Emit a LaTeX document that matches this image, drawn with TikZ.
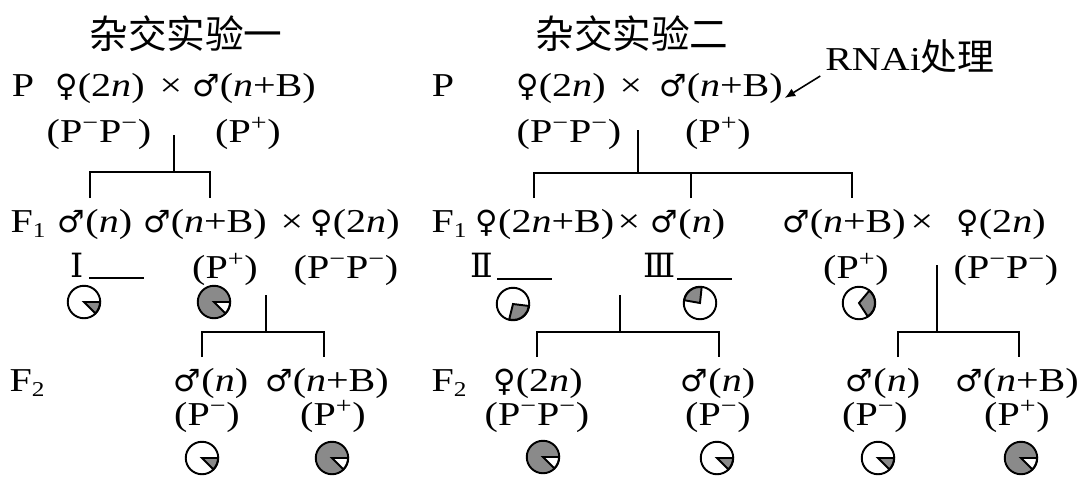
\documentclass[tikz,border=0pt]{standalone}
\usepackage{fontspec}
\setmainfont{Liberation Serif}[FakeStretch=1.2]
\newfontfamily\cjk{Noto Sans CJK SC}
\newfontfamily\symf{DejaVu Sans}[Scale=0.92]
\newfontfamily\romf{DejaVu Serif}
\usepackage{tikz}
\usetikzlibrary{arrows.meta}

\definecolor{piegray}{gray}{0.54}

\newcommand{\fem}{{\symf ♀}}
\newcommand{\mal}{{\symf ♂}}
\newcommand{\vn}{\textit{n}}
\newcommand{\Pminus}{P\textsuperscript{−}}
\newcommand{\Pplus}{P\textsuperscript{+}}
\newcommand{\gen}[1]{F\raisebox{-0.35ex}{\fontsize{12}{12}\selectfont #1}}
% wedge of a pie: node, from angle, to angle, colour
\newcommand{\piewedge}[4]{\filldraw[fill=#4] (#1.center) -- ++(#2:0.32cm) arc[start angle=#2, end angle=#3, radius=0.32cm] -- cycle;}

\begin{document}
\begin{tikzpicture}[
    x=0.02cm, y=-0.02cm,
    line width=1.1pt,
    txt/.style   = {anchor=base, inner sep=0pt, font=\fontsize{19}{23}\selectfont},
    title/.style = {anchor=base, inner sep=0pt, font=\fontsize{22}{26}\selectfont\cjk},
    pie/.style   = {circle, draw, fill=white, minimum size=0.65cm, inner sep=0pt},
    darkpie/.style = {pie, fill=piegray},
    arr/.style   = {-{Latex[length=6pt,width=5pt]}, line width=0.9pt}
]
\useasboundingbox (0,0) rectangle (1080,485);

% ---- Experiment one ----
\node[title] (t1)  at (186,48)  {杂交实验一};
\node[txt]   (p1)  at (23,96)   {P};
\node[txt]   (f1)  at (100,96)  {\fem(2\vn)};
\node[txt]   (x1)  at (171,96)  {×};
\node[txt]   (m1)  at (254,96)  {\mal(\vn+B)};
\node[txt]   (g1)  at (99,142)  {(\Pminus\Pminus)};
\node[txt]   (g2)  at (248,142) {(\Pplus)};

\node[txt]   (F1a) at (28,232)  {\gen{1}};
\node[txt]   (m11) at (95,232)  {\mal(\vn)};
\node[txt]   (m12) at (205,232) {\mal(\vn+B)};
\node[txt]   (x12) at (292,232) {×};
\node[txt]   (f12) at (355,232) {\fem(2\vn)};
\node[txt]   (r1)  at (77,277)  {\romf Ⅰ};
\node[txt]   (g12) at (225,278) {(\Pplus)};
\node[txt]   (g13) at (346,278) {(\Pminus\Pminus)};

\node[txt]   (F2a) at (27,391)  {\gen{2}};
\node[txt]   (m21) at (211,391) {\mal(\vn)};
\node[txt]   (m22) at (327,391) {\mal(\vn+B)};
\node[txt]   (g21) at (207,425) {(\Pminus)};
\node[txt]   (g22) at (333,425) {(\Pplus)};

% ---- Experiment two ----
\node[title] (t2)   at (632,48)  {杂交实验二};
\node[txt]   (rnai) at (910,70)  {RNAi{\cjk\fontsize{21}{25}\selectfont 处理}};
\node[txt]   (p2)   at (443,96)  {P};
\node[txt]   (f2)   at (561,96)  {\fem(2\vn)};
\node[txt]   (x2)   at (631,96)  {×};
\node[txt]   (m2)   at (721,96)  {\mal(\vn+B)};
\node[txt]   (g3)   at (569,142) {(\Pminus\Pminus)};
\node[txt]   (g4)   at (718,142) {(\Pplus)};

\node[txt]   (F1b)  at (449,232) {\gen{1}};
\node[txt]   (f3)   at (545,232) {\fem(2\vn+B)};
\node[txt]   (x3)   at (629,232) {×};
\node[txt]   (m3)   at (688,232) {\mal(\vn)};
\node[txt]   (m4)   at (844,232) {\mal(\vn+B)};
\node[txt]   (x4)   at (922,232) {×};
\node[txt]   (f4)   at (1001,232) {\fem(2\vn)};
\node[txt]   (r2)   at (482,277) {\romf Ⅱ};
\node[txt]   (r3)   at (660,277) {\romf Ⅲ};
\node[txt]   (g5)   at (856,278) {(\Pplus)};
\node[txt]   (g6)   at (1006,278) {(\Pminus\Pminus)};

\node[txt]   (F2b)  at (449,391) {\gen{2}};
\node[txt]   (f5)   at (538,391) {\fem(2\vn)};
\node[txt]   (m5)   at (718,391) {\mal(\vn)};
\node[txt]   (m6)   at (883,391) {\mal(\vn)};
\node[txt]   (m7)   at (1017,391) {\mal(\vn+B)};
\node[txt]   (g7)   at (537,425) {(\Pminus\Pminus)};
\node[txt]   (g8)   at (718,425) {(\Pminus)};
\node[txt]   (g9)   at (875,425) {(\Pminus)};
\node[txt]   (g10)  at (1017,425) {(\Pplus)};

% ---- Pies ----
\node[pie]     (pa) at (84,302)  {};  \piewedge{pa}{-45}{0}{piegray}
\node[darkpie] (pb) at (214,302) {};  \piewedge{pb}{-45}{0}{white}
\node[pie]     (pc) at (202,458) {};  \piewedge{pc}{-45}{0}{piegray}
\node[darkpie] (pd) at (332,458) {};  \piewedge{pd}{-45}{0}{white}
\node[pie]     (pe) at (513,304) {};  \piewedge{pe}{-104}{-7}{piegray}
\node[pie]     (pf) at (700,303) {};  \piewedge{pf}{84}{170}{piegray}
\node[pie]     (pg) at (859,303) {};  \piewedge{pg}{-57}{50}{piegray}
\node[darkpie] (ph) at (543,457) {};  \piewedge{ph}{-45}{0}{white}
\node[pie]     (pi) at (717,458) {};  \piewedge{pi}{-45}{0}{piegray}
\node[pie]     (pj) at (878,458) {};  \piewedge{pj}{-45}{0}{piegray}
\node[darkpie] (pk) at (1021,458) {}; \piewedge{pk}{-45}{0}{white}

% ---- Blanks ----
\draw (89,278)  -- (144,278);
\draw (497,279) -- (552,279);
\draw (677,279) -- (732,279);

% ---- Tree lines ----
\coordinate (a0) at (174,135); \coordinate (a1) at (174,172);
\coordinate (aL) at (90,198);  \coordinate (aR) at (210,198);
\draw (a0) -- (a1);
\draw (aL) -- (aL |- a1) -- (aR |- a1) -- (aR);

\coordinate (b0) at (266,295); \coordinate (b1) at (266,332);
\coordinate (bL) at (202,357); \coordinate (bR) at (324,357);
\draw (b0) -- (b1);
\draw (bL) -- (bL |- b1) -- (bR |- b1) -- (bR);

\coordinate (c0) at (638,130); \coordinate (c1) at (638,173);
\coordinate (cL) at (534,198); \coordinate (cM) at (691,198); \coordinate (cR) at (852,198);
\draw (c0) -- (c1);
\draw (cL) -- (cL |- c1) -- (cR |- c1) -- (cR);
\draw (cM) -- (cM |- c1);

\coordinate (d0) at (620,295); \coordinate (d1) at (620,332);
\coordinate (dL) at (537,357); \coordinate (dR) at (719,357);
\draw (d0) -- (d1);
\draw (dL) -- (dL |- d1) -- (dR |- d1) -- (dR);

\coordinate (e0) at (937,265); \coordinate (e1) at (937,332);
\coordinate (eL) at (898,357); \coordinate (eR) at (1019,357);
\draw (e0) -- (e1);
\draw (eL) -- (eL |- e1) -- (eR |- e1) -- (eR);

% ---- RNAi arrow ----
\draw[arr] ([shift={(-4,6)}]rnai.base west) -- ([shift={(1,10)}]m2.east);

\end{tikzpicture}
\end{document}
